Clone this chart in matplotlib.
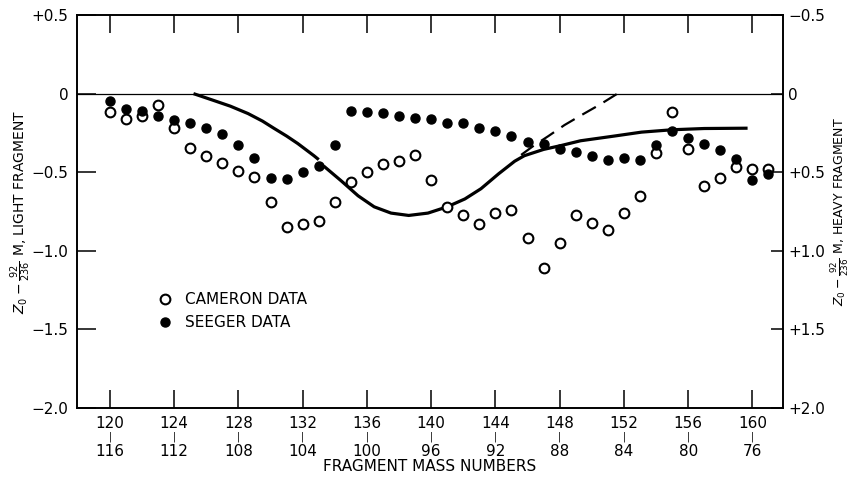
import matplotlib
matplotlib.use("Agg")
import matplotlib.pyplot as plt

plt.rcParams["font.family"] = "DejaVu Sans"
plt.rcParams["mathtext.fontset"] = "dejavusans"

# light fragment mass numbers for the data points
mass = list(range(120, 162))

cameron = [-0.12, -0.16, -0.14, -0.075, -0.22, -0.345, -0.40, -0.44, -0.49, -0.53,
           -0.69, -0.85, -0.83, -0.81, -0.69, -0.56, -0.50, -0.45, -0.43, -0.39,
           -0.55, -0.72, -0.77, -0.83, -0.76, -0.74, -0.92, -1.11, -0.95, -0.77,
           -0.82, -0.87, -0.76, -0.65, -0.38, -0.115, -0.35, -0.59, -0.535, -0.465,
           -0.48, -0.48]

seeger = [-0.05, -0.10, -0.11, -0.14, -0.165, -0.185, -0.22, -0.255, -0.33, -0.41,
          -0.535, -0.545, -0.50, -0.46, -0.33, -0.11, -0.12, -0.125, -0.14, -0.155,
          -0.16, -0.185, -0.185, -0.22, -0.235, -0.27, -0.305, -0.32, -0.35, -0.37,
          -0.40, -0.42, -0.41, -0.42, -0.33, -0.24, -0.28, -0.32, -0.36, -0.415,
          -0.55, -0.51]

# solid curve, two pieces (small break near A=133)
curve1_x = [125.2, 126.5, 127.5, 128.6, 129.5, 130.2, 131.0, 131.7, 132.7, 133.0]
curve1_y = [0.0, -0.045, -0.08, -0.127, -0.175, -0.22, -0.27, -0.318, -0.395, -0.42]
curve2_x = [133.3, 134.4, 135.45, 136.45, 137.5, 138.6, 139.8, 141.0, 142.1, 143.1,
            144.2, 145.2, 145.8, 147.0, 148.1, 149.3, 151.4, 153.1, 155.0, 157.0, 159.7]
curve2_y = [-0.46, -0.555, -0.65, -0.72, -0.76, -0.775, -0.76, -0.72, -0.67, -0.605,
            -0.51, -0.43, -0.395, -0.355, -0.33, -0.30, -0.27, -0.245, -0.23, -0.222, -0.22]

# dashed branch
dash_x = [145.6, 146.4, 147.3, 148.3, 149.3, 150.5, 151.6]
dash_y = [-0.39, -0.33, -0.27, -0.20, -0.14, -0.07, 0.0]

light_ticks = [120, 124, 128, 132, 136, 140, 144, 148, 152, 156, 160]
heavy_ticks = [116, 112, 108, 104, 100, 96, 92, 88, 84, 80, 76]
left_ticks = [0.5, 0, -0.5, -1.0, -1.5, -2.0]
left_labels = ["+0.5", "0", "\u22120.5", "\u22121.0", "\u22121.5", "\u22122.0"]
right_ticks = [-0.5, 0, 0.5, 1.0, 1.5, 2.0]
right_labels = ["\u22120.5", "0", "+0.5", "+1.0", "+1.5", "+2.0"]

fig = plt.figure(figsize=(8.51, 4.78), dpi=100)
ax = fig.add_axes([0.0905, 0.1464, 0.8295, 0.8222])

ax.axhline(0, color="black", lw=0.9)
ax.plot(curve1_x, curve1_y, color="black", lw=2.3, solid_capstyle="butt")
ax.plot(curve2_x, curve2_y, color="black", lw=2.3, solid_capstyle="butt")
ax.plot(dash_x, dash_y, color="black", lw=1.6, dashes=(7, 4))

ax.plot(mass, cameron, "o", ms=7, mfc="white", mec="black", mew=1.5,
        ls="none", label="CAMERON DATA")
ax.plot(mass, seeger, "o", ms=6.5, mfc="black", mec="black",
        ls="none", label="SEEGER DATA")

ax.set_xlim(117.95, 161.9)
ax.set_ylim(-2.0, 0.5)

ax.set_xticks(light_ticks)
ax.set_xticklabels([])
ax.tick_params(axis="x", direction="in", length=13, width=1.1, top=True, bottom=True)
ax.set_yticks(left_ticks)
ax.set_yticklabels(left_labels, fontsize=11)
ax.tick_params(axis="y", direction="in", length=14, width=1.1, pad=6)

for a, h in zip(light_ticks, heavy_ticks):
    ax.annotate(str(a), xy=(a, 0), xycoords=("data", "axes fraction"),
                xytext=(0, -11), textcoords="offset points",
                ha="center", va="center", fontsize=11)
    ax.annotate("|", xy=(a, 0), xycoords=("data", "axes fraction"),
                xytext=(0, -21), textcoords="offset points",
                ha="center", va="center", fontsize=7)
    ax.annotate(str(h), xy=(a, 0), xycoords=("data", "axes fraction"),
                xytext=(0, -31.5), textcoords="offset points",
                ha="center", va="center", fontsize=11)

ax.text(0.5, -0.148, "FRAGMENT MASS NUMBERS", transform=ax.transAxes,
        ha="center", va="center", fontsize=11)

ax.set_ylabel(r"$Z_0 - \frac{92}{236}$ M, LIGHT FRAGMENT", fontsize=10,
              va="center")
ax.yaxis.set_label_coords(-0.079, 0.5)

ax2 = ax.twinx()
ax2.set_ylim(2.0, -0.5)
ax2.set_yticks(right_ticks)
ax2.set_yticklabels(right_labels, fontsize=11)
ax2.tick_params(axis="y", direction="in", length=9, width=1.1, pad=4)
ax2.set_ylabel(r"$Z_0 - \frac{92}{236}$ M, HEAVY FRAGMENT", fontsize=9,
               va="center", rotation=90)
ax2.yaxis.set_label_coords(1.0805, 0.5)

for s in ax.spines.values():
    s.set_linewidth(1.2)
for s in ax2.spines.values():
    s.set_linewidth(1.2)

ax.legend(loc="upper left", bbox_to_anchor=(0.095, 0.33), frameon=False,
          fontsize=11, handlelength=1.0, handletextpad=0.8, labelspacing=0.55)

fig.savefig("out.png", dpi=100)
